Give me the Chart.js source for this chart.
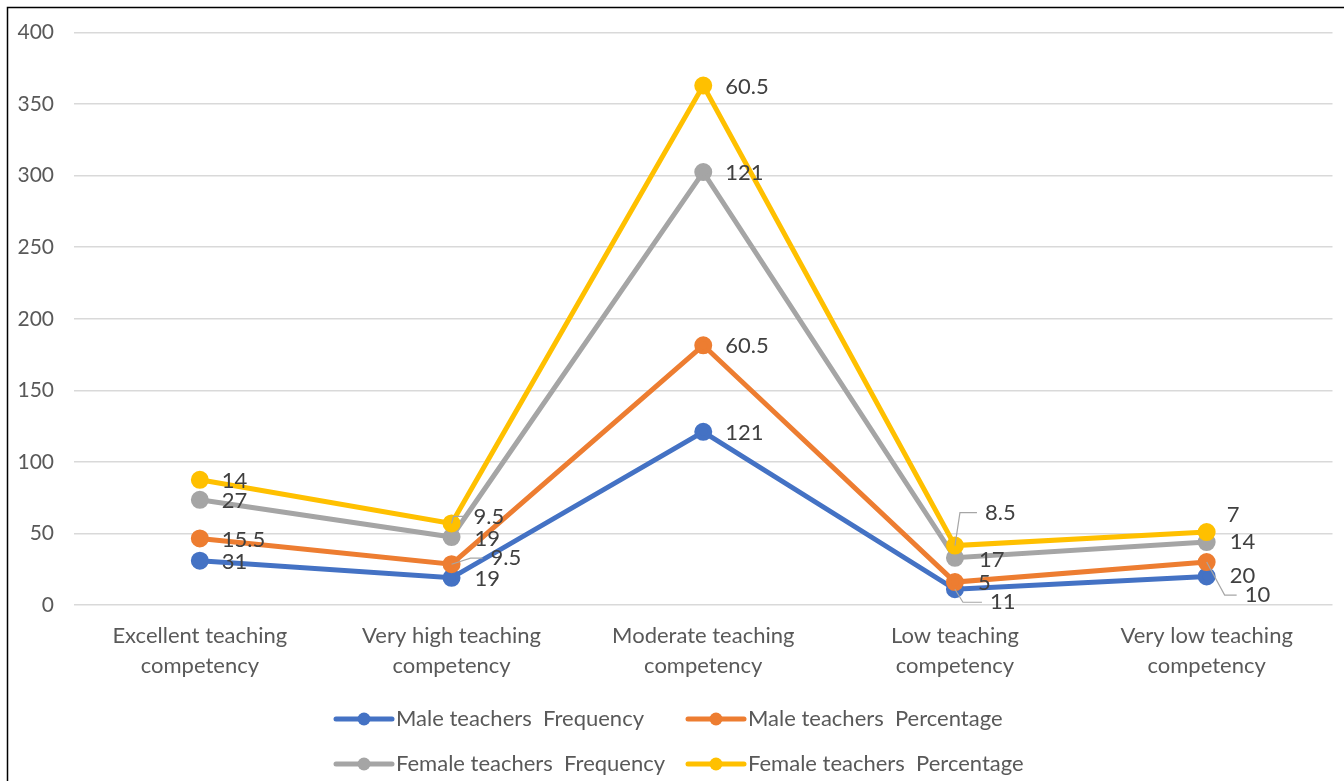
<!DOCTYPE html>
<html>
<head>
<meta charset="utf-8">
<script src="https://cdn.jsdelivr.net/npm/chart.js@4.4.1/dist/chart.umd.min.js"></script>
<style>
  html, body { margin: 0; padding: 0; background: #fff; }
  #wrap { position: relative; width: 1344px; height: 781px; overflow: hidden; }
</style>
</head>
<body>
<div id="wrap"><canvas id="c" width="1344" height="781"></canvas></div>
<script>
// ---- data ----
const categories = [
  ["Excellent teaching", "competency"],
  ["Very high teaching", "competency"],
  ["Moderate teaching", "competency"],
  ["Low teaching", "competency"],
  ["Very low teaching", "competency"]
];
const seriesNames = [
  "Male teachers  Frequency",
  "Male teachers  Percentage",
  "Female teachers  Frequency",
  "Female teachers  Percentage"
];
const maleFrequency    = [31, 19, 121, 11, 20];
const malePercentage   = [15.5, 9.5, 60.5, 5, 10];
const femaleFrequency  = [27, 19, 121, 17, 14];
const femalePercentage = [14, 9.5, 60.5, 8.5, 7];
const yTicks = [0, 50, 100, 150, 200, 250, 300, 350, 400];

// ---- styling ----
const FONT = "Lato, 'Open Sans', sans-serif";
const seriesColors = ["#4472C4", "#ED7D31", "#A5A5A5", "#FFC000"];
const seriesValues = [maleFrequency, malePercentage, femaleFrequency, femalePercentage];

// data label placement relative to each point ("series-category"); elbow = leader line bend
const labelDefault = { dx: 22, dy: 1 };
const labelOverrides = {
  "3-1": { dx: 22, dy: -7, elbow: 2 },
  "2-1": { dx: 23, dy: 2 },
  "1-1": { dx: 39, dy: -6, elbow: 19 },
  "0-1": { dx: 23, dy: 1 },
  "3-3": { dx: 30, dy: -33, elbow: 5 },
  "2-3": { dx: 24, dy: 2 },
  "1-3": { dx: 23, dy: 1 },
  "0-3": { dx: 35, dy: 13, elbow: 8 },
  "3-4": { dx: 20, dy: -17 },
  "2-4": { dx: 23, dy: 0 },
  "1-4": { dx: 38, dy: 33, elbow: 18 },
  "0-4": { dx: 23, dy: 0 }
};

// draw series in index order so later series sit on top
const seriesOrderPlugin = {
  id: "seriesOrder",
  beforeDatasetsDraw(chart) {
    const area = chart.chartArea;
    const ctx = chart.ctx;
    chart.getSortedVisibleDatasetMetas().slice().sort((a, b) => a.index - b.index).forEach(meta => {
      ctx.save();
      ctx.beginPath();
      ctx.rect(area.left - 20, area.top - 20, area.width + 40, area.height + 40);
      ctx.clip();
      meta.controller.draw();
      ctx.restore();
    });
    return false;
  }
};

const valueLabelPlugin = {
  id: "valueLabels",
  afterDraw(chart) {
    const ctx = chart.ctx;
    ctx.save();
    ctx.font = "22px " + FONT;
    ctx.textAlign = "left";
    ctx.textBaseline = "middle";
    chart.data.datasets.forEach((ds, i) => {
      const meta = chart.getDatasetMeta(i);
      meta.data.forEach((pt, j) => {
        const p = labelOverrides[i + "-" + j] || labelDefault;
        const lx = pt.x + p.dx, ly = pt.y + p.dy;
        if (p.elbow !== undefined) {
          ctx.strokeStyle = "#A6A6A6";
          ctx.lineWidth = 1.2;
          ctx.beginPath();
          ctx.moveTo(pt.x, pt.y);
          ctx.lineTo(pt.x + p.elbow, ly);
          ctx.lineTo(lx - 8, ly);
          ctx.stroke();
        }
        ctx.fillStyle = "#404040";
        ctx.fillText(String(ds.data[j]), lx, ly);
      });
    });
    ctx.restore();
  }
};

const legendPlugin = {
  id: "twoColumnLegend",
  afterDraw(chart) {
    const ctx = chart.ctx;
    const cols = [336, 688];
    const rows = [719, 764];
    ctx.save();
    ctx.font = "22px " + FONT;
    ctx.textBaseline = "middle";
    ctx.textAlign = "left";
    chart.data.datasets.forEach((ds, i) => {
      const x = cols[i % 2], y = rows[Math.floor(i / 2)];
      ctx.strokeStyle = ds.borderColor;
      ctx.lineWidth = 5;
      ctx.lineCap = "round";
      ctx.beginPath();
      ctx.moveTo(x, y);
      ctx.lineTo(x + 56, y);
      ctx.stroke();
      ctx.fillStyle = ds.borderColor;
      ctx.beginPath();
      ctx.arc(x + 28, y, 6.5, 0, Math.PI * 2);
      ctx.fill();
      ctx.fillStyle = "#595959";
      ctx.fillText(ds.label, x + 60, y);
    });
    // outer frame
    ctx.strokeStyle = "#000";
    ctx.lineWidth = 1.5;
    ctx.strokeRect(7.5, 7.5, 1400, 900);
    ctx.restore();
  }
};

new Chart(document.getElementById("c"), {
  type: "line",
  data: {
    labels: categories,
    datasets: seriesNames.map((name, i) => ({
      label: name,
      data: seriesValues[i],
      borderColor: seriesColors[i],
      backgroundColor: seriesColors[i],
      pointBackgroundColor: seriesColors[i],
      pointBorderColor: seriesColors[i],
      borderWidth: 5,
      pointRadius: 6.5,
      pointHoverRadius: 6.5,
      tension: 0,
      fill: false
    }))
  },
  options: {
    responsive: false,
    animation: false,
    events: [],
    layout: { padding: { top: 29, right: 7, bottom: 0, left: 0 } },
    plugins: {
      legend: { display: false },
      tooltip: { enabled: false }
    },
    scales: {
      x: {
        offset: true,
        grid: { display: false },
        border: { display: false },
        ticks: {
          color: "#595959",
          font: { family: FONT, size: 22, lineHeight: 1.36 },
          padding: 8,
          maxRotation: 0,
          autoSkip: false
        },
        afterFit(scale) { scale.height = 176; }
      },
      y: {
        stacked: true,
        min: 0,
        max: 400,
        afterBuildTicks(scale) { scale.ticks = yTicks.map(v => ({ value: v })); },
        grid: { color: "#D9D9D9", lineWidth: 1.5, drawTicks: false },
        border: { display: false },
        ticks: {
          color: "#595959",
          font: { family: FONT, size: 21 },
          padding: 20
        },
        afterFit(scale) { scale.width = 74; }
      }
    }
  },
  plugins: [seriesOrderPlugin, valueLabelPlugin, legendPlugin]
});
</script>
</body>
</html>
